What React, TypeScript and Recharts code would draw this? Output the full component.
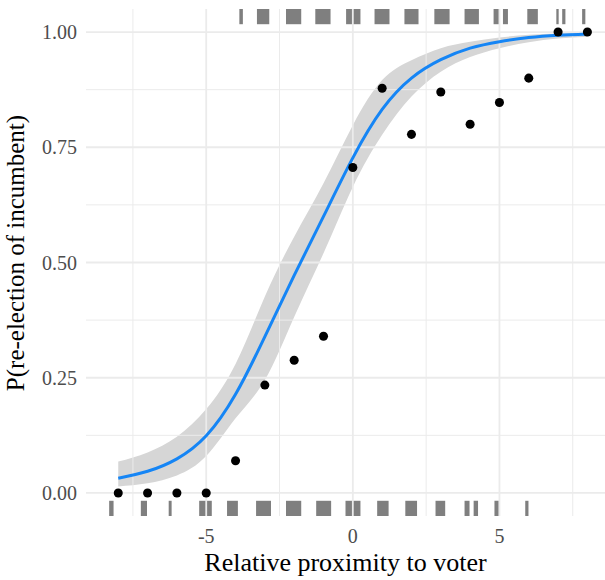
import {
  Area,
  ComposedChart,
  Line,
  ReferenceArea,
  ReferenceLine,
  Scatter,
  XAxis,
  YAxis,
} from 'recharts'

// relative proximity values (one per group)
const proximity = [-8, -7, -6, -5, -4, -3, -2, -1, 0, 1, 2, 3, 4, 5, 6, 7, 8]
// observed share of incumbents re-elected
const observedShare = [0, 0, 0, 0, 0.07, 0.234, 0.288, 0.34, 0.706, 0.878, 0.778, 0.87, 0.8, 0.847, 0.9, 1, 1]
// fitted logistic curve and its band
const fittedProb = [0.032, 0.047, 0.074, 0.124, 0.214, 0.339, 0.472, 0.6, 0.727, 0.832, 0.9, 0.94, 0.965, 0.979, 0.988, 0.993, 0.996]
const bandLower = [0.014, 0.021, 0.038, 0.08, 0.162, 0.245, 0.382, 0.52, 0.664, 0.777, 0.86, 0.914, 0.946, 0.965, 0.978, 0.986, 0.99]
const bandUpper = [0.068, 0.088, 0.122, 0.182, 0.28, 0.426, 0.556, 0.672, 0.798, 0.896, 0.939, 0.965, 0.979, 0.988, 0.994, 0.997, 0.999]

// jittered rug marks (x from / x to): re-elected on top, defeated at bottom
const rugTop: [number, number][] = [
  [-3.87, -3.75], [-3.27, -2.85], [-2.28, -1.76], [-1.28, -0.76], [-0.23, 0.26],
  [0.74, 1.25], [1.76, 2.24], [2.78, 3.3], [3.81, 4.3], [4.8, 5.0], [5.12, 5.29],
  [5.95, 6.31], [6.94, 7.02], [7.14, 7.25], [7.82, 7.93],
]
const rugBottom: [number, number][] = [
  [-8.31, -8.16], [-7.23, -7.02], [-6.28, -6.18], [-5.24, -4.81], [-4.29, -3.92],
  [-3.3, -2.79], [-2.28, -1.76], [-1.25, -0.74], [-0.25, 0.26], [0.83, 1.22],
  [1.79, 2.19], [2.82, 3.15], [3.81, 3.98], [4.12, 4.27], [4.83, 4.98], [5.88, 5.99],
]

const xTicks = [-5, 0, 5]
const xMinor = [-7.5, -2.5, 2.5, 7.5]
const yTicks = [0, 0.25, 0.5, 0.75, 1]
const yMinor = [0.125, 0.375, 0.625, 0.875]

const xDomain: [number, number] = [-9.1, 8.6]
const yDomain: [number, number] = [-0.05, 1.05]
const rugLen = 0.03 * (yDomain[1] - yDomain[0])

const data = proximity.map((x, i) => ({
  x,
  share: observedShare[i],
  fit: fittedProb[i],
  band: [bandLower[i], bandUpper[i]],
}))

const serif = '"Liberation Serif", "DejaVu Serif", serif'
const gridColor = '#ebebeb'

function XTick({ x, y, payload }: any) {
  return (
    <text x={x} y={y} dy={14} textAnchor="middle" fill="#4d4d4d" fontSize={20} fontFamily={serif}>
      {payload.value}
    </text>
  )
}

function YTick({ x, y, payload }: any) {
  return (
    <text x={x} y={y} dy={7} textAnchor="end" fill="#4d4d4d" fontSize={20} fontFamily={serif}>
      {Number(payload.value).toFixed(2)}
    </text>
  )
}

export default function App() {
  return (
    <div style={{ position: 'absolute', left: 0, top: 0, width: 605, height: 580, background: '#fff', fontFamily: serif }}>
      <ComposedChart
        width={605}
        height={580}
        data={data}
        margin={{ top: 9, right: 0, bottom: 24, left: 0 }}
      >
        {xMinor.map((v) => (
          <ReferenceLine key={`xm${v}`} x={v} stroke={gridColor} strokeWidth={1} />
        ))}
        {yMinor.map((v) => (
          <ReferenceLine key={`ym${v}`} y={v} stroke={gridColor} strokeWidth={1} />
        ))}
        {xTicks.map((v) => (
          <ReferenceLine key={`xM${v}`} x={v} stroke={gridColor} strokeWidth={1.8} />
        ))}
        {yTicks.map((v) => (
          <ReferenceLine key={`yM${v}`} y={v} stroke={gridColor} strokeWidth={1.8} />
        ))}

        <XAxis
          type="number"
          dataKey="x"
          domain={xDomain}
          ticks={xTicks}
          allowDataOverflow
          axisLine={false}
          tickLine={false}
          tickSize={0}
          tickMargin={13}
          height={40}
          tick={<XTick />}
        />
        <YAxis
          type="number"
          domain={yDomain}
          ticks={yTicks}
          allowDataOverflow
          axisLine={false}
          tickLine={false}
          tickSize={0}
          tickMargin={9}
          width={86}
          tick={<YTick />}
        />

        <Area
          dataKey="band"
          type="natural"
          fill="#d6d6d6"
          fillOpacity={1}
          stroke="none"
          isAnimationActive={false}
        />
        <Line
          dataKey="fit"
          type="natural"
          stroke="#1585f5"
          strokeWidth={3}
          dot={false}
          isAnimationActive={false}
        />
        <Scatter dataKey="share" fill="#000000" isAnimationActive={false} />

        {rugTop.map(([a, b], i) => (
          <ReferenceArea
            key={`rt${i}`}
            x1={a}
            x2={b}
            y1={yDomain[1] - rugLen}
            y2={yDomain[1]}
            fill="#7f7f7f"
            fillOpacity={1}
            stroke="none"
          />
        ))}
        {rugBottom.map(([a, b], i) => (
          <ReferenceArea
            key={`rb${i}`}
            x1={a}
            x2={b}
            y1={yDomain[0]}
            y2={yDomain[0] + rugLen}
            fill="#7f7f7f"
            fillOpacity={1}
            stroke="none"
          />
        ))}
      </ComposedChart>

      <div
        style={{
          position: 'absolute',
          left: 86,
          width: 519,
          top: 550,
          textAlign: 'center',
          fontSize: 26,
          color: '#000',
          lineHeight: '26px',
        }}
      >
        Relative proximity to voter
      </div>
      <div
        style={{
          position: 'absolute',
          left: 16,
          top: 253,
          width: 400,
          marginLeft: -200,
          marginTop: -13,
          textAlign: 'center',
          fontSize: 25,
          color: '#000',
          lineHeight: '26px',
          transform: 'rotate(-90deg)',
        }}
      >
        P(re-election of incumbent)
      </div>
    </div>
  )
}
